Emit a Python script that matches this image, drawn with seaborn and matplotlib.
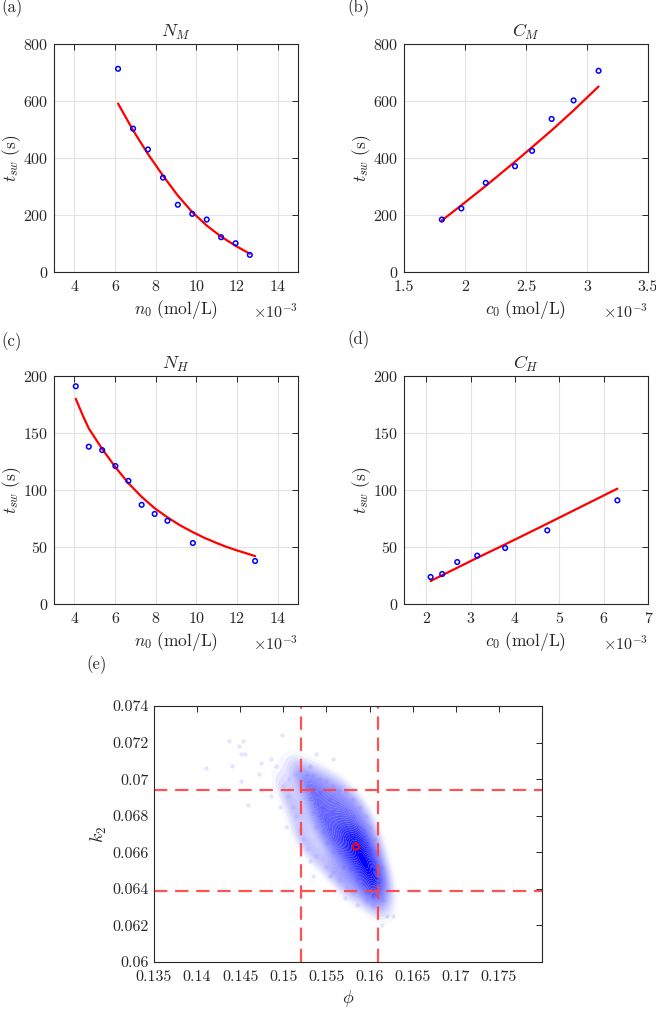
import numpy as np
import pandas as pd
import matplotlib
matplotlib.use('Agg')
import matplotlib.pyplot as plt
from matplotlib.colors import LinearSegmentedColormap
import seaborn as sns

# ---- data ----
# (a) N_M
a_n0 = [6.15, 6.89, 7.62, 8.36, 9.09, 9.80, 10.51, 11.22, 11.93, 12.63]
a_t = [713, 503, 430, 331, 236, 204, 184, 122, 101, 60]
a_fit = [591, 497, 414, 338, 268, 210, 163, 124, 92, 64]

# (b) C_M
b_c0 = [1.81, 1.97, 2.17, 2.41, 2.55, 2.71, 2.89, 3.095]
b_t = [184, 223, 313, 371, 425, 537, 602, 706]
b_fit = [181, 234, 302, 387, 438, 497, 567, 651]

# (c) N_H
c_n0 = [4.07, 4.71, 5.37, 6.02, 6.66, 7.31, 7.95, 8.58, 9.83, 12.89]
c_t = [191, 138, 135, 121, 108, 87, 79, 73, 53.5, 37.7]
c_fit_n0 = [4.07, 4.4, 4.71, 5.37, 6.02, 6.66, 7.31, 7.95, 8.58, 9.2, 9.83, 10.4, 11.0, 11.5, 12.0, 12.45, 12.89]
c_fit = [180, 166, 154, 136, 120, 106, 94, 84, 76, 69, 63, 58, 53.5, 50, 47, 44.5, 42]

# (d) C_H
d_c0 = [2.10, 2.36, 2.70, 3.15, 3.78, 4.73, 6.31]
d_t = [23.7, 26.3, 36.8, 42.4, 49.1, 64.6, 90.9]
d_fit_c0 = [2.10, 3.15, 3.78, 4.73, 6.31]
d_fit = [20.2, 40.5, 52.3, 70.5, 101.2]

# (e) posterior samples (phi, k2), hand-picked from the cloud
# sparse outliers
phi_out = [0.1410, 0.1440, 0.1437, 0.1453, 0.1449, 0.1499, 0.1456, 0.1451, 0.1474, 0.1486,
           0.1492, 0.1472, 0.1451, 0.1459, 0.1474, 0.1486, 0.1496, 0.1503, 0.1531, 0.1538,
           0.1558, 0.1531, 0.1534, 0.1554, 0.1571, 0.1585, 0.1620, 0.1614, 0.1627]
k2_out = [0.0706, 0.0707, 0.0721, 0.0721, 0.0718, 0.0724, 0.0714, 0.0714, 0.0709, 0.0711,
          0.0707, 0.0703, 0.0699, 0.0686, 0.0694, 0.0691, 0.0685, 0.0674, 0.0707, 0.0714,
          0.0711, 0.0655, 0.0647, 0.0647, 0.0635, 0.0631, 0.0625, 0.0620, 0.0625]
# main body
phi_body = [0.1507, 0.1513, 0.1519, 0.1527, 0.1534, 0.1542, 0.1550, 0.1500, 0.1505, 0.1511,
            0.1515, 0.1519, 0.1523, 0.1527, 0.1538, 0.1550, 0.1558, 0.1565, 0.1573, 0.1581,
            0.1596, 0.1604, 0.1616, 0.1612, 0.1614, 0.1608, 0.1606, 0.1600, 0.1596, 0.1589,
            0.1581, 0.1573, 0.1565, 0.1558,
            0.1527, 0.1534, 0.1542, 0.1531, 0.1538, 0.1546, 0.1554, 0.1562, 0.1534, 0.1542,
            0.1550, 0.1558, 0.1565, 0.1573, 0.1581, 0.1538, 0.1546, 0.1554, 0.1562, 0.1569,
            0.1577, 0.1585, 0.1593, 0.1550, 0.1558, 0.1565, 0.1573, 0.1581, 0.1589, 0.1596,
            0.1600, 0.1558, 0.1565, 0.1573, 0.1581, 0.1589, 0.1596, 0.1604, 0.1569, 0.1577,
            0.1585, 0.1593, 0.1600, 0.1608, 0.1585, 0.1593, 0.1600, 0.1608, 0.1596, 0.1604,
            0.1581, 0.1589, 0.1596, 0.1585, 0.1577, 0.1593, 0.1589, 0.1596, 0.1604, 0.1581,
            0.1573, 0.1585, 0.1593, 0.1600, 0.1604, 0.1598, 0.1602, 0.1606, 0.1594, 0.1590]
k2_body = [0.0700, 0.0703, 0.0705, 0.0703, 0.0702, 0.0700, 0.0699, 0.0696, 0.0691, 0.0685,
           0.0680, 0.0672, 0.0667, 0.0662, 0.0658, 0.0652, 0.0649, 0.0645, 0.0641, 0.0638,
           0.0634, 0.0631, 0.0634, 0.0645, 0.0652, 0.0660, 0.0667, 0.0674, 0.0680, 0.0685,
           0.0689, 0.0693, 0.0694, 0.0696,
           0.0696, 0.0694, 0.0693, 0.0689, 0.0687, 0.0685, 0.0689, 0.0687, 0.0682, 0.0680,
           0.0678, 0.0682, 0.0680, 0.0683, 0.0680, 0.0674, 0.0671, 0.0672, 0.0674, 0.0672,
           0.0674, 0.0674, 0.0672, 0.0665, 0.0667, 0.0667, 0.0667, 0.0665, 0.0667, 0.0665,
           0.0662, 0.0660, 0.0660, 0.0658, 0.0660, 0.0658, 0.0656, 0.0654, 0.0652, 0.0651,
           0.0652, 0.0651, 0.0649, 0.0647, 0.0645, 0.0643, 0.0641, 0.0640, 0.0638, 0.0636,
           0.0663, 0.0662, 0.0660, 0.0671, 0.0669, 0.0669, 0.0656, 0.0652, 0.0645, 0.0656,
           0.0663, 0.0660, 0.0663, 0.0656, 0.0651, 0.0648, 0.0644, 0.0650, 0.0654, 0.0649]
phi_bounds = [0.1520, 0.16094]
k2_bounds = [0.06941, 0.06390]
phi_best = [0.15843]
k2_best = [0.06631]

# ---- style ----
sns.set_theme(style='white')
plt.rcParams['font.family'] = ['cmr10', 'DejaVu Serif']
plt.rcParams['mathtext.fontset'] = 'cm'
plt.rcParams['axes.formatter.use_mathtext'] = True
plt.rcParams['axes.unicode_minus'] = False
dark = '#262626'

fig = plt.figure(figsize=(6.56, 10.09), dpi=100)
W, H = 656, 1009


def add_ax(left, top, right, bottom):
    return fig.add_axes([left / W, 1 - bottom / H, (right - left) / W, (bottom - top) / H])


def style(ax, grid=True):
    for s in ax.spines.values():
        s.set_color(dark)
        s.set_linewidth(0.8)
    ax.tick_params(direction='in', top=True, right=True, length=4, width=0.7,
                   color=dark, labelcolor=dark, labelsize=11.5)
    ax.tick_params(axis='x', pad=6)
    ax.tick_params(axis='y', pad=4)
    if grid:
        ax.grid(True, color='#e3e3e3', linewidth=0.8)
    ax.set_axisbelow(True)


def small_panel(ax, x, y, fx, fy, title, xlab, xlim, xticks, ylim, yticks):
    style(ax)
    sns.lineplot(x=fx, y=fy, ax=ax, color='red', linewidth=1.6, sort=False, estimator=None)
    sns.scatterplot(x=x, y=y, ax=ax, marker='o', s=11, facecolor='none',
                    edgecolor='blue', linewidth=1.1, zorder=3)
    ax.set_xlim(xlim)
    ax.set_ylim(ylim)
    ax.set_xticks(xticks)
    ax.set_xticklabels([f'{t:g}' for t in xticks])
    ax.set_yticks(yticks)
    ax.set_title(title, fontsize=13, pad=5, color=dark)
    ax.set_xlabel(xlab, fontsize=12.5, color=dark, labelpad=3)
    ax.set_ylabel(r'$t_{sw}\ (\mathrm{s})$', fontsize=12.5, color=dark, labelpad=0)
    ax.text(1.0, -0.175, r'$\times10^{-3}$', transform=ax.transAxes, ha='right', va='center',
            fontsize=11.5, color=dark)


ax_a = add_ax(54, 44, 298, 272)
small_panel(ax_a, a_n0, a_t, a_n0, a_fit, r'$N_M$', r'$n_0\ (\mathrm{mol/L})$',
            (3, 15), [4, 6, 8, 10, 12, 14], (0, 800), [0, 200, 400, 600, 800])
ax_b = add_ax(404, 44, 648, 272)
small_panel(ax_b, b_c0, b_t, b_c0, b_fit, r'$C_M$', r'$c_0\ (\mathrm{mol/L})$',
            (1.5, 3.5), [1.5, 2, 2.5, 3, 3.5], (0, 800), [0, 200, 400, 600, 800])
ax_c = add_ax(54, 376, 298, 604)
small_panel(ax_c, c_n0, c_t, c_fit_n0, c_fit, r'$N_H$', r'$n_0\ (\mathrm{mol/L})$',
            (3, 15), [4, 6, 8, 10, 12, 14], (0, 200), [0, 50, 100, 150, 200])
ax_d = add_ax(404, 376, 648, 604)
small_panel(ax_d, d_c0, d_t, d_fit_c0, d_fit, r'$C_H$', r'$c_0\ (\mathrm{mol/L})$',
            (1.5, 7), [2, 3, 4, 5, 6, 7], (0, 200), [0, 50, 100, 150, 200])

# (e)
ax_e = add_ax(154, 706, 542, 962)
style(ax_e, grid=False)
blue_cmap = LinearSegmentedColormap.from_list(
    'bluealpha', [(0, 0, 1, 0.0), (0, 0, 1, 0.55), (0, 0, 1, 0.85), (0, 0, 1, 1.0)])
sns.kdeplot(x=phi_body, y=k2_body, ax=ax_e, fill=True, cmap=blue_cmap, levels=40, thresh=0.03,
            bw_adjust=0.9, antialiased=True)
sns.scatterplot(x=phi_out, y=k2_out, ax=ax_e, color='blue', s=10, alpha=0.1, linewidth=0)
sns.scatterplot(x=phi_body, y=k2_body, ax=ax_e, color='blue', s=10, alpha=0.06, linewidth=0)
for v in phi_bounds:
    ax_e.axvline(v, color='#ff4040', alpha=0.9, linewidth=1.6, dashes=(6, 3.5))
for v in k2_bounds:
    ax_e.axhline(v, color='#ff4040', alpha=0.9, linewidth=1.6, dashes=(6, 3.5))
sns.scatterplot(x=phi_best, y=k2_best, ax=ax_e, marker='o', s=20, facecolor='none',
                edgecolor='red', linewidth=1.4, zorder=5)
ax_e.set_xlim(0.135, 0.18)
ax_e.set_ylim(0.06, 0.074)
xt = [0.135, 0.14, 0.145, 0.15, 0.155, 0.16, 0.165, 0.17, 0.175]
ax_e.set_xticks(xt)
ax_e.set_xticklabels([f'{t:g}' for t in xt])
yt = [0.06, 0.062, 0.064, 0.066, 0.068, 0.07, 0.072, 0.074]
ax_e.set_yticks(yt)
ax_e.set_yticklabels([f'{t:g}' for t in yt])
ax_e.set_xlabel(r'$\phi$', fontsize=13, color=dark, labelpad=3)
ax_e.set_ylabel(r'$k_2$', fontsize=13, color=dark, labelpad=2)

# panel labels
for lab, x, y in [('(a)', 1, 8), ('(b)', 347, 8), ('(c)', 1, 342), ('(d)', 347, 340), ('(e)', 86, 665)]:
    fig.text(x / W, 1 - y / H, lab, ha='left', va='center', fontsize=12, color=dark)

fig.savefig('out.png', dpi=100)
